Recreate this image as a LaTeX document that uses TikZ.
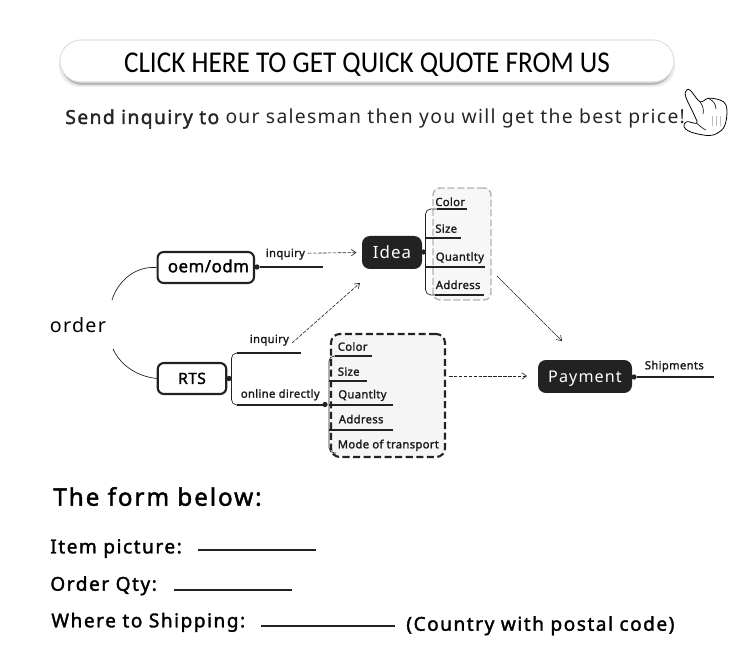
\documentclass[tikz,border=0pt]{standalone}
\usepackage{fontspec}
\setmainfont{Noto Sans}
\newfontfamily\midfont[FakeBold=1.6,LetterSpace=3]{Noto Sans}
\newfontfamily\formfont[FakeBold=1.8,LetterSpace=8]{Noto Sans}
\newfontfamily\sendfont[FakeBold=1.8,LetterSpace=7]{Noto Sans}
\newfontfamily\lightfont[LetterSpace=6.6]{Noto Sans}
\newfontfamily\titlefont[FakeStretch=0.9]{Carlito}
\usetikzlibrary{arrows.meta}
\definecolor{boxdark}{HTML}{222222}
\tikzset{
  >={Straight Barb[length=2.6pt,width=3.6pt]},
  lbl/.style={anchor=base west,inner sep=0pt,font=\midfont\fontsize{6.4}{8}\selectfont,text=black!90},
  formlbl/.style={anchor=base west,inner sep=0pt,font=\formfont\fontsize{10.85}{12}\selectfont,text=black},
  whitebox/.style={draw=boxdark,line width=1.2pt,fill=white,rounded corners=3.5pt,minimum height=0.62cm,inner sep=0pt,text height=5.4pt,text depth=0pt,font=\midfont\fontsize{9.6}{10}\selectfont},
  darkbox/.style={fill=boxdark,rounded corners=4.5pt,minimum height=0.66cm,inner sep=0pt,text=white,text height=6.6pt,text depth=0pt},
  dotmark/.style={circle,fill=boxdark,minimum size=3pt,inner sep=0pt},
  stem/.style={line width=0.95pt,draw=boxdark},
  twig/.style={line width=0.4pt,draw=boxdark},
  flow/.style={->,line width=0.35pt,dash pattern=on 2pt off 0.8pt,draw=boxdark},
}
\begin{document}
\begin{tikzpicture}[x=0.02cm,y=-0.02cm]
\useasboundingbox (0,0) rectangle (750,651);

% button
\fill[black!8,rounded corners=12pt] (59,43) rectangle (675,87);
\fill[black!28,rounded corners=12pt] (61,44) rectangle (673,85);
\draw[draw=black!12,fill=white,line width=0.6pt,rounded corners=12pt] (60,40) rectangle (674,82);
\node[anchor=base,inner sep=0pt,font=\titlefont\fontsize{17.2}{20}\selectfont] (quote) at (367,72.7) {CLICK HERE TO GET QUICK QUOTE FROM US};
\node[anchor=base west,inner sep=0pt,font=\lightfont\fontsize{11}{13}\selectfont,text=black!85] (send) at (65,124) {{\sendfont Send inquiry to} our salesman then you will get the best price!};

% hand
\draw[line width=0.45pt,fill=white] plot[smooth cycle,tension=0.6] coordinates {(685.7,96.7) (686.7,90) (690.7,90.7) (700,101.7) (708.3,98.3) (720,100) (726,105) (726.7,116.7) (723.3,128.3) (713.3,135) (703.3,135) (690,131.7) (684,126.7) (686.7,121.7) (696.7,123.3) (695,116.7)};
\draw[line width=0.35pt] (700,101.7) .. controls (703,106) and (704,110) .. (703,114);
\draw[line width=0.35pt] (708.3,98.3) .. controls (714,101) and (716,105) .. (716,109);
\draw[line width=0.35pt] (696.7,123.3) .. controls (700,126) and (703,129) .. (706,130);
\foreach \x in {712,716,720}
    \draw[black!25,line width=0.4pt] (\x,116) -- (\x,126);

% left side
\node[anchor=base west,inner sep=0pt,font=\lightfont\fontsize{11.2}{13}\selectfont] (order) at (49.5,332.7) {order};
\node[whitebox,minimum width=1.93cm] (oem) at (205.8,267.5) {\hspace{3pt}oem/odm};
\node[whitebox,minimum width=1.37cm,text height=6.2pt,font=\midfont\fontsize{8.8}{10}\selectfont] (rts) at (192,378.5) {RTS\hspace{6pt}};
\coordinate (orderup) at (112,300);
\coordinate (orderdown) at (113,349);
\draw[twig] (orderup) .. controls (118,281) and (135,266) .. (oem.west);
\draw[twig] (orderdown) .. controls (120,364) and (135,376) .. (rts.west);

% oem branch
\node[dotmark] (oemdot) at (257,267) {};
\coordinate (oemend) at (323,267);
\draw[stem] (oemdot) -- (oemend);
\node[lbl] (inqa) at (265.5,257) {inquiry};

% idea
\node[darkbox,minimum width=1.2cm,font=\lightfont\fontsize{9.6}{12}\selectfont] (idea) at (392,252.5) {Idea};
\draw[flow,shorten >=3pt] (inqa.east) ++(3,-1) -- (idea.west);
\node[draw=black!30,fill=black!3,dashed,line width=0.8pt,dash pattern=on 4pt off 1.6pt,rounded corners=4pt,minimum width=1.16cm,minimum height=2.24cm,inner sep=0pt] (ideabox) at (462,244) {};
\node[dotmark] (ideadot) at (423.5,252) {};
\draw[twig,rounded corners=3pt] (437,209) -- (425.5,209) -- (425.5,295) -- (437,295);
\draw[stem] (437,209) -- (467,209);
\draw[stem] (425.5,238) -- (461,238);
\draw[stem] (425.5,267) -- (485,267);
\draw[stem] (435,295) -- (484,295);
\foreach \t/\x/\y/\n in {Color/435/206/a,Size/435/232.7/b,Quantlty/435.5/260.7/c,Address/435.5/289/d}
    \node[lbl] (idea\n) at (\x,\y) {\t};

% rts branch
\node[dotmark] (rtsdot) at (229,378.5) {};
\draw[twig,rounded corners=3pt] (238,353) -- (231.5,353) -- (231.5,405) -- (238,405);
\draw[stem] (237,353) -- (301,353);
\draw[stem] (237,405) -- (325,405);
\node[lbl] (inqb) at (249.5,343) {inquiry};
\node[lbl] (online) at (240.5,397.7) {online directly};
\coordinate (inqarrow) at (292,343);
\coordinate (ideaarrow) at (360,283);
\draw[flow] (inqarrow) -- (ideaarrow);

% box with details
\node[draw=boxdark,fill=black!4,line width=1.2pt,dash pattern=on 4pt off 2pt,rounded corners=5pt,minimum width=2.28cm,minimum height=2.46cm,inner sep=0pt] (rtsbox) at (388,395.5) {};
\draw[twig,rounded corners=3pt] (336,356) -- (329,356) -- (329,453) -- (336,453);
\node[dotmark] (onlinedot) at (325,404.5) {};
\draw[stem] (335,356) -- (372,356);
\foreach \y/\xe in {381/367,405/393,430/393}
    \draw[stem] (329,\y) -- (\xe,\y);
\foreach \t/\x/\y/\n in {Color/337.5/350.7/a,Size/337.5/375.7/b,Quantlty/338/398.3/c,Address/338.5/423.3/d,Mode of transport/337.5/448.3/e}
    \node[lbl] (rts\n) at (\x,\y) {\t};

% payment
\node[darkbox,minimum width=1.88cm,font=\lightfont\fontsize{9.2}{12}\selectfont] (payment) at (585,376.5) {Payment};
\coordinate (boxout) at (449,376);
\coordinate (payin) at (527,376);
\draw[flow] (boxout) -- (payin);
\coordinate (ideaout) at (497,276);
\coordinate (payarrow) at (562,341);
\draw[flow,dash pattern=on 3pt off 0.4pt] (ideaout) -- (payarrow);
\node[dotmark] (paydot) at (634,377) {};
\coordinate (payend) at (714,377);
\draw[stem] (paydot) -- (payend);
\node[lbl] (ship) at (644.5,369.3) {Shipments};

% form
\node[anchor=base west,inner sep=0pt,font=\formfont\fontsize{13.8}{16}\selectfont] (formtitle) at (53,505.7) {The form below:};
\node[formlbl] (item) at (50,553.3) {Item picture:};
\node[formlbl] (qty) at (50,590.7) {Order Qty:};
\node[formlbl] (where) at (51,627.3) {Where to Shipping:};
\node[formlbl] (country) at (406,630.7) {(Country with postal code)};
\coordinate (itema) at (198,549.7);
\coordinate (itemb) at (316,549.7);
\coordinate (qtya) at (174,589.7);
\coordinate (qtyb) at (292,589.7);
\coordinate (wherea) at (261,625.7);
\coordinate (whereb) at (395,625.7);
\foreach \a/\b in {itema/itemb,qtya/qtyb,wherea/whereb}
    \draw[stem] (\a) -- (\b);
\end{tikzpicture}
\end{document}
